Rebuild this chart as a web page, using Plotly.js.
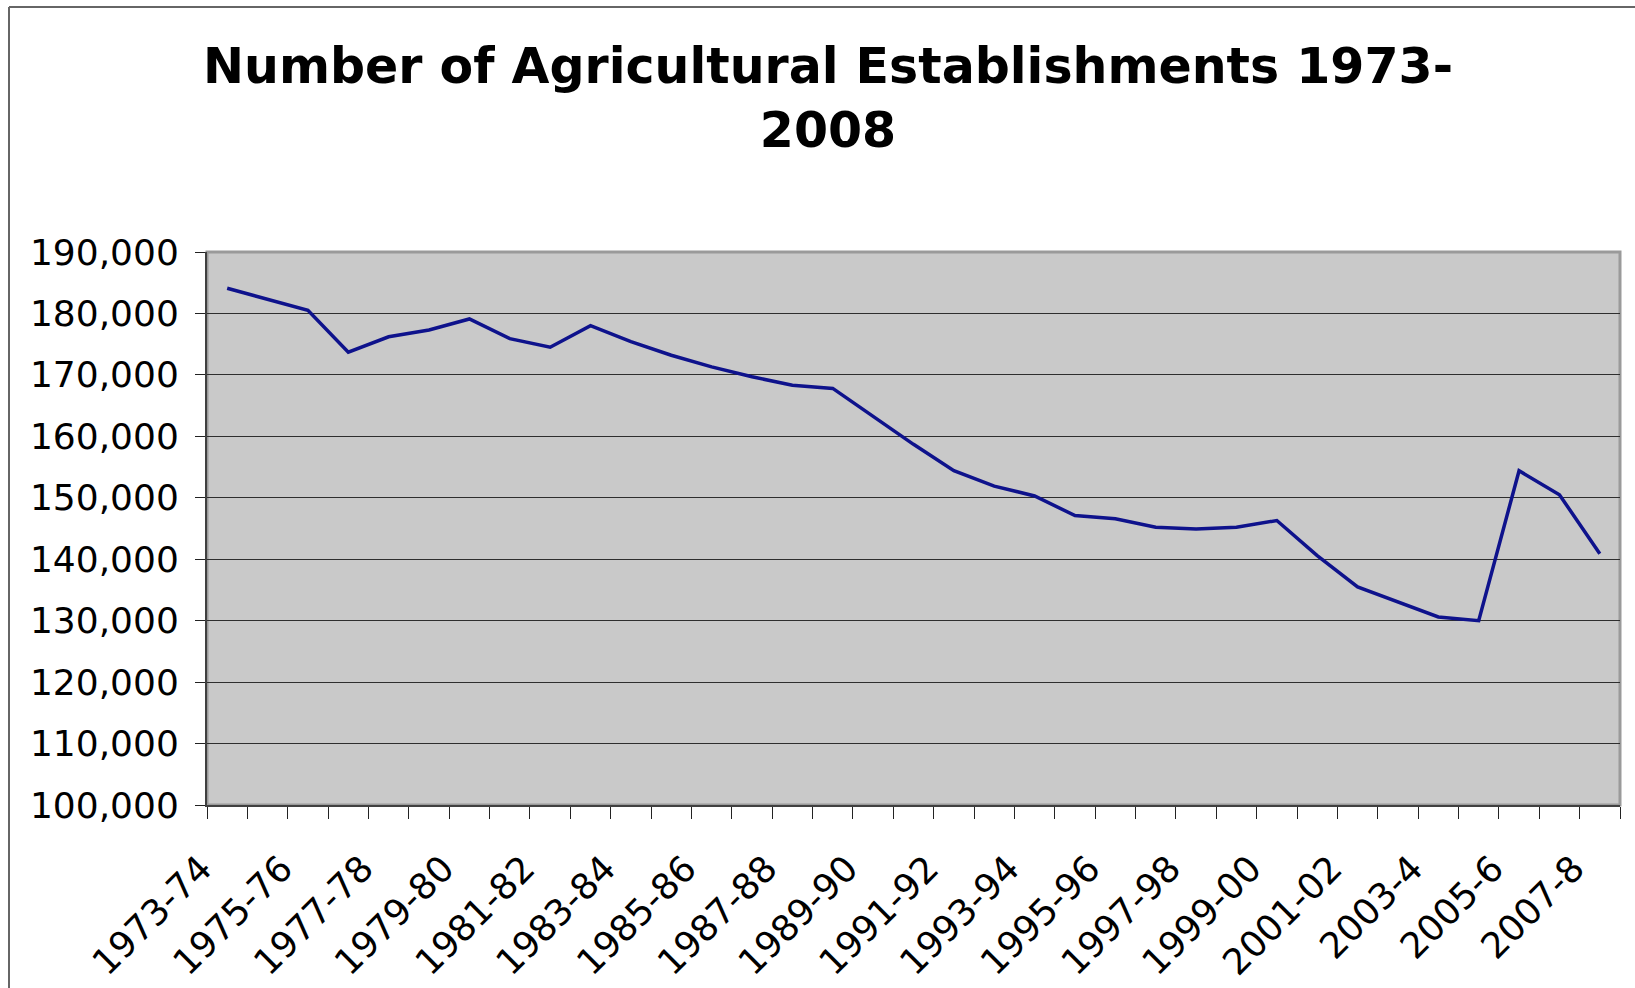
<!DOCTYPE html>
<html>
<head>
<meta charset="utf-8">
<script src="https://cdn.plot.ly/plotly-3.0.1.min.js"></script>
<style>
  html, body { margin: 0; padding: 0; background: #ffffff; }
  #chart { width: 1635px; height: 988px; }
</style>
</head>
<body>
<div id="chart"></div>
<script>
const categories = [
  '1973-74','1974-75','1975-76','1976-77','1977-78','1978-79','1979-80','1980-81',
  '1981-82','1982-83','1983-84','1984-85','1985-86','1986-87','1987-88','1988-89',
  '1989-90','1990-91','1991-92','1992-93','1993-94','1994-95','1995-96','1996-97',
  '1997-98','1998-99','1999-00','2000-01','2001-02','2002-03','2003-4','2004-5',
  '2005-6','2006-7','2007-8'
];
const establishments = [
  184100, 182300, 180500, 173700, 176200, 177300, 179100, 175900,
  174500, 178000, 175400, 173200, 171300, 169700, 168300, 167800,
  163300, 158700, 154400, 151900, 150300, 147100, 146600, 145200,
  144900, 145200, 146300, 140600, 135500, 133100, 130600, 130000,
  154400, 150500, 140900
];
const tickLabels = [
  '1973-74','1975-76','1977-78','1979-80','1981-82','1983-84','1985-86','1987-88',
  '1989-90','1991-92','1993-94','1995-96','1997-98','1999-00','2001-02','2003-4',
  '2005-6','2007-8'
];
const yTicks = [100000,110000,120000,130000,140000,150000,160000,170000,180000,190000];

const xIndex = categories.map((c, i) => i);
const labelPos = tickLabels.map(l => categories.indexOf(l));

const W = 1635, H = 988;
const mL = 207, mR = 15, mT = 252, mB = 183;
const pw = W - mL - mR, ph = H - mT - mB;
const px2paperX = px => (px - mL) / pw;
const py2paperY = py => 1 - (py - mT) / ph;

const trace = {
  x: xIndex,
  y: establishments,
  text: categories,
  type: 'scatter',
  mode: 'lines',
  line: { color: '#0e128c', width: 3.5 },
  hovertemplate: '%{text}: %{y:,}<extra></extra>'
};

const layout = {
  width: W, height: H,
  margin: { l: mL, r: mR, t: mT, b: mB, pad: 0 },
  paper_bgcolor: '#ffffff',
  plot_bgcolor: '#c9c9c9',
  showlegend: false,
  font: { family: 'DejaVu Sans, Verdana, sans-serif', color: '#000000' },
  title: {
    text: 'Number of Agricultural Establishments 1973-<br>2008',
    font: { family: 'DejaVu Sans, Verdana, sans-serif', size: 49, color: '#000000', weight: 'bold' },
    xref: 'container', x: 828 / W, xanchor: 'center',
    yref: 'container', y: 1 - 83 / H, yanchor: 'top'
  },
  xaxis: {
    type: 'linear',
    range: [-0.5, categories.length - 0.5],
    tickmode: 'array',
    tickvals: labelPos,
    ticktext: tickLabels,
    ticks: '',
    tickangle: -45,
    tickfont: { size: 36, color: '#000000' },
    ticklabelstandoff: 26,
    ticklabelshift: -26,
    showgrid: false,
    zeroline: false,
    showline: true,
    linecolor: '#404040',
    linewidth: 2,
    minor: { tickmode: 'linear', tick0: -0.5, dtick: 1, ticks: 'outside', ticklen: 12, tickwidth: 1, tickcolor: '#222222', showgrid: false },
    fixedrange: true
  },
  yaxis: {
    range: [100000, 190000],
    tickmode: 'array',
    tickvals: yTicks,
    tickformat: ',',
    ticks: 'outside',
    ticklen: 10,
    tickwidth: 1,
    tickcolor: '#222222',
    tickfont: { size: 36, color: '#000000' },
    ticklabelstandoff: 9,
    showgrid: true,
    gridcolor: '#2e2e2e',
    gridwidth: 1,
    zeroline: false,
    showline: true,
    linecolor: '#404040',
    linewidth: 2,
    fixedrange: true
  },
  shapes: [
    { type: 'rect', xref: 'paper', yref: 'paper', x0: 0, x1: 1, y0: 0, y1: 1,
      line: { color: '#9a9a9a', width: 3 }, fillcolor: 'rgba(0,0,0,0)', layer: 'between' },
    { type: 'line', xref: 'paper', yref: 'paper',
      x0: px2paperX(9), x1: px2paperX(9), y0: py2paperY(7), y1: py2paperY(1000),
      line: { color: '#666666', width: 2 } },
    { type: 'line', xref: 'paper', yref: 'paper',
      x0: px2paperX(9), x1: px2paperX(1650), y0: py2paperY(7), y1: py2paperY(7),
      line: { color: '#666666', width: 2 } }
  ]
};

Plotly.newPlot('chart', [trace], layout, { displayModeBar: false, staticPlot: true });
</script>
</body>
</html>
